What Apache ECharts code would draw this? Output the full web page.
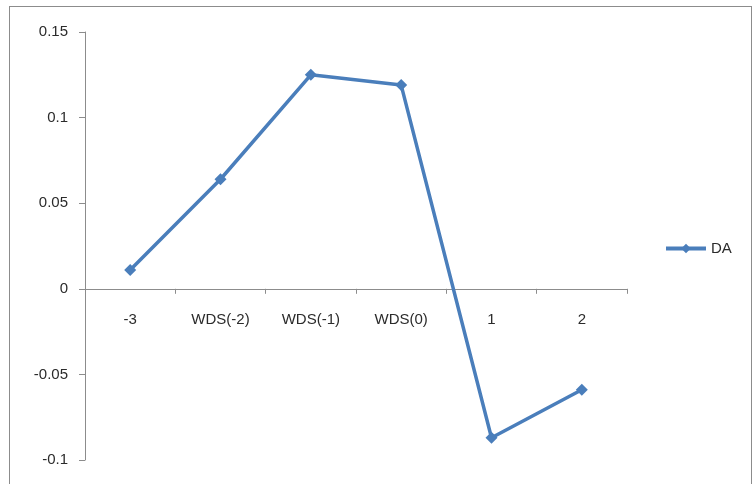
<!DOCTYPE html>
<html>
<head>
<meta charset="utf-8">
<script src="https://cdn.jsdelivr.net/npm/echarts@6/dist/echarts.min.js"></script>
<style>
  html, body { margin: 0; padding: 0; background: #fff; }
  #frame { position: absolute; left: 9px; top: 6px; width: 743px; height: 500px; border: 1px solid #8c8c8c; box-sizing: border-box; }
  #chart { position: absolute; left: 0; top: 0; width: 755px; height: 484px; }
</style>
</head>
<body>
<div id="frame"></div>
<div id="chart"></div>
<script>
const categories = ['-3', 'WDS(-2)', 'WDS(-1)', 'WDS(0)', '1', '2'];
const daValues = [0.011, 0.064, 0.125, 0.119, -0.087, -0.059];
const seriesName = 'DA';

const yMin = -0.1, yMax = 0.15;
const gridTop = 32, gridBottom = 24, chartH = 484;
// Shift the category axis up so it sits on the zero line, labels included.
const plotH = chartH - gridTop - gridBottom;
const zeroOffset = -plotH * (0 - yMin) / (yMax - yMin);

const chart = echarts.init(document.getElementById('chart'), null, { renderer: 'canvas' });
const font = 'Liberation Sans, Arial, sans-serif';
const textColor = '#2b2b2b';
chart.setOption({
  animation: false,
  backgroundColor: 'transparent',
  grid: { left: 85, right: 128, top: gridTop, bottom: gridBottom, containLabel: false, outerBoundsMode: 'none' },
  legend: {
    data: [seriesName],
    orient: 'vertical',
    left: 659, top: 236,
    itemWidth: 40, itemHeight: 12, itemGap: 4,
    lineStyle: { width: 4 },
    textStyle: { fontFamily: font, fontSize: 15, color: textColor }
  },
  xAxis: {
    type: 'category',
    data: categories,
    position: 'bottom',
    offset: zeroOffset,
    boundaryGap: true,
    axisLine: { onZero: false, lineStyle: { color: '#8c8c8c', width: 1 } },
    axisTick: { show: true, alignWithLabel: false, length: 5, lineStyle: { color: '#8c8c8c' } },
    axisLabel: { margin: 24, fontFamily: font, fontSize: 15, color: textColor },
    splitLine: { show: false }
  },
  yAxis: {
    type: 'value',
    min: yMin, max: yMax, interval: 0.05,
    axisLine: { show: true, lineStyle: { color: '#8c8c8c', width: 1 } },
    axisTick: { show: true, length: 6, lineStyle: { color: '#8c8c8c' } },
    axisLabel: {
      margin: 17, fontFamily: font, fontSize: 15, color: textColor,
      formatter: v => String(parseFloat(v.toFixed(2)))
    },
    splitLine: { show: false }
  },
  series: [{
    name: seriesName,
    type: 'line',
    data: daValues,
    symbol: 'diamond',
    symbolSize: 12,
    showAllSymbol: true,
    lineStyle: { color: '#4a7ebb', width: 3.5 },
    itemStyle: { color: '#4a7ebb' }
  }]
});
</script>
</body>
</html>
